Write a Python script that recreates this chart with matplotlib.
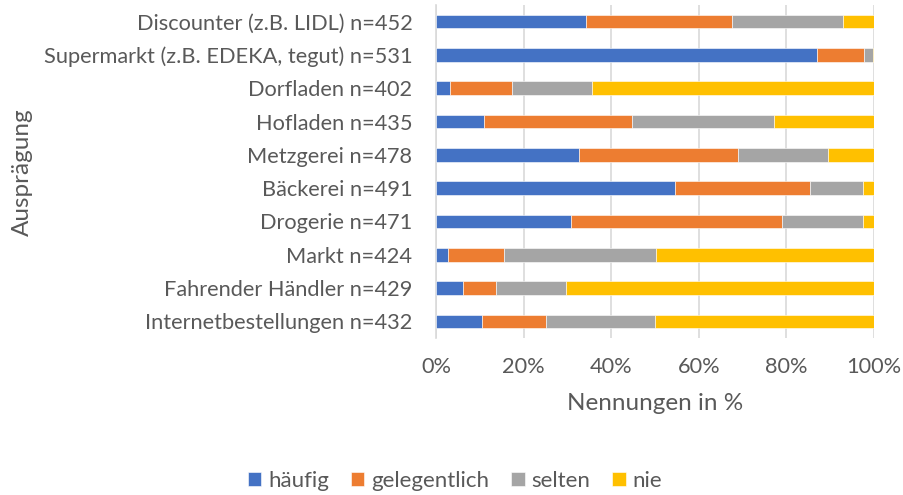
import matplotlib
matplotlib.use("Agg")
import matplotlib.pyplot as plt
from matplotlib.ticker import FuncFormatter

plt.rcParams['font.family'] = ['Lato', 'DejaVu Sans']

categories = [
    "Discounter (z.B. LIDL) n=452",
    "Supermarkt (z.B. EDEKA, tegut) n=531",
    "Dorfladen n=402",
    "Hofladen n=435",
    "Metzgerei n=478",
    "Bäckerei n=491",
    "Drogerie n=471",
    "Markt n=424",
    "Fahrender Händler n=429",
    "Internetbestellungen n=432",
]
haeufig      = [34.3, 87.1, 3.3, 11.0, 32.7, 54.5, 30.9, 2.7, 6.2, 10.4]
gelegentlich = [33.3, 10.7, 14.1, 33.8, 36.3, 31.0, 48.2, 12.8, 7.6, 14.6]
selten       = [25.4, 2.0, 18.2, 32.3, 20.6, 11.9, 18.3, 34.8, 15.8, 24.9]
nie          = [7.0, 0.2, 64.4, 22.9, 10.4, 2.6, 2.6, 49.7, 70.4, 50.1]
series_names = ["häufig", "gelegentlich", "selten", "nie"]
colors = ["#4472C4", "#ED7D31", "#A5A5A5", "#FFC000"]
xticks = [0, 20, 40, 60, 80, 100]

txt = "#595959"
fig = plt.figure(figsize=(9.04, 4.95), dpi=100)
ax = fig.add_axes([436/904, 1 - 338/495, 438/904, 333/495])

y = list(range(len(categories)))
left = [0.0] * len(categories)
for name, vals, c in zip(series_names, [haeufig, gelegentlich, selten, nie], colors):
    ax.barh(y, vals, left=left, height=0.41, color=c, label=name,
            edgecolor="white", linewidth=0.4, zorder=3)
    left = [l + v for l, v in zip(left, vals)]

ax.set_xlim(0, 100)
ax.set_ylim(len(categories) - 0.5, -0.5)
ax.set_yticks(y)
ax.set_yticklabels(categories, fontsize=15.7, color=txt)
ax.set_xticks(xticks)
ax.xaxis.set_major_formatter(FuncFormatter(lambda v, p: f"{int(v)}%"))
ax.tick_params(axis='x', labelsize=15.7, colors=txt, length=0, pad=14)
ax.tick_params(axis='y', length=0, pad=17)
ax.grid(axis='x', color="#D9D9D9", linewidth=1.2, zorder=0)
for s in ["top", "right", "bottom"]:
    ax.spines[s].set_visible(False)
ax.spines["left"].set_color("#D9D9D9")
ax.spines["left"].set_linewidth(1.2)

ax.set_xlabel("Nennungen in %", fontsize=17.5, color=txt, labelpad=11)
fig.text(22/904, 1 - 172/495, "Ausprägung", rotation=90, fontsize=17.5,
         color=txt, ha="center", va="center")

handles, labels = ax.get_legend_handles_labels()
leg = fig.legend(handles, labels, loc="center", bbox_to_anchor=(455/904, 1 - 481/495),
                 ncol=4, frameon=False, fontsize=16, handlelength=0.6,
                 handleheight=0.6, handletextpad=0.3, columnspacing=1.0)
for t in leg.get_texts():
    t.set_color(txt)

fig.savefig("out.png", dpi=100)
